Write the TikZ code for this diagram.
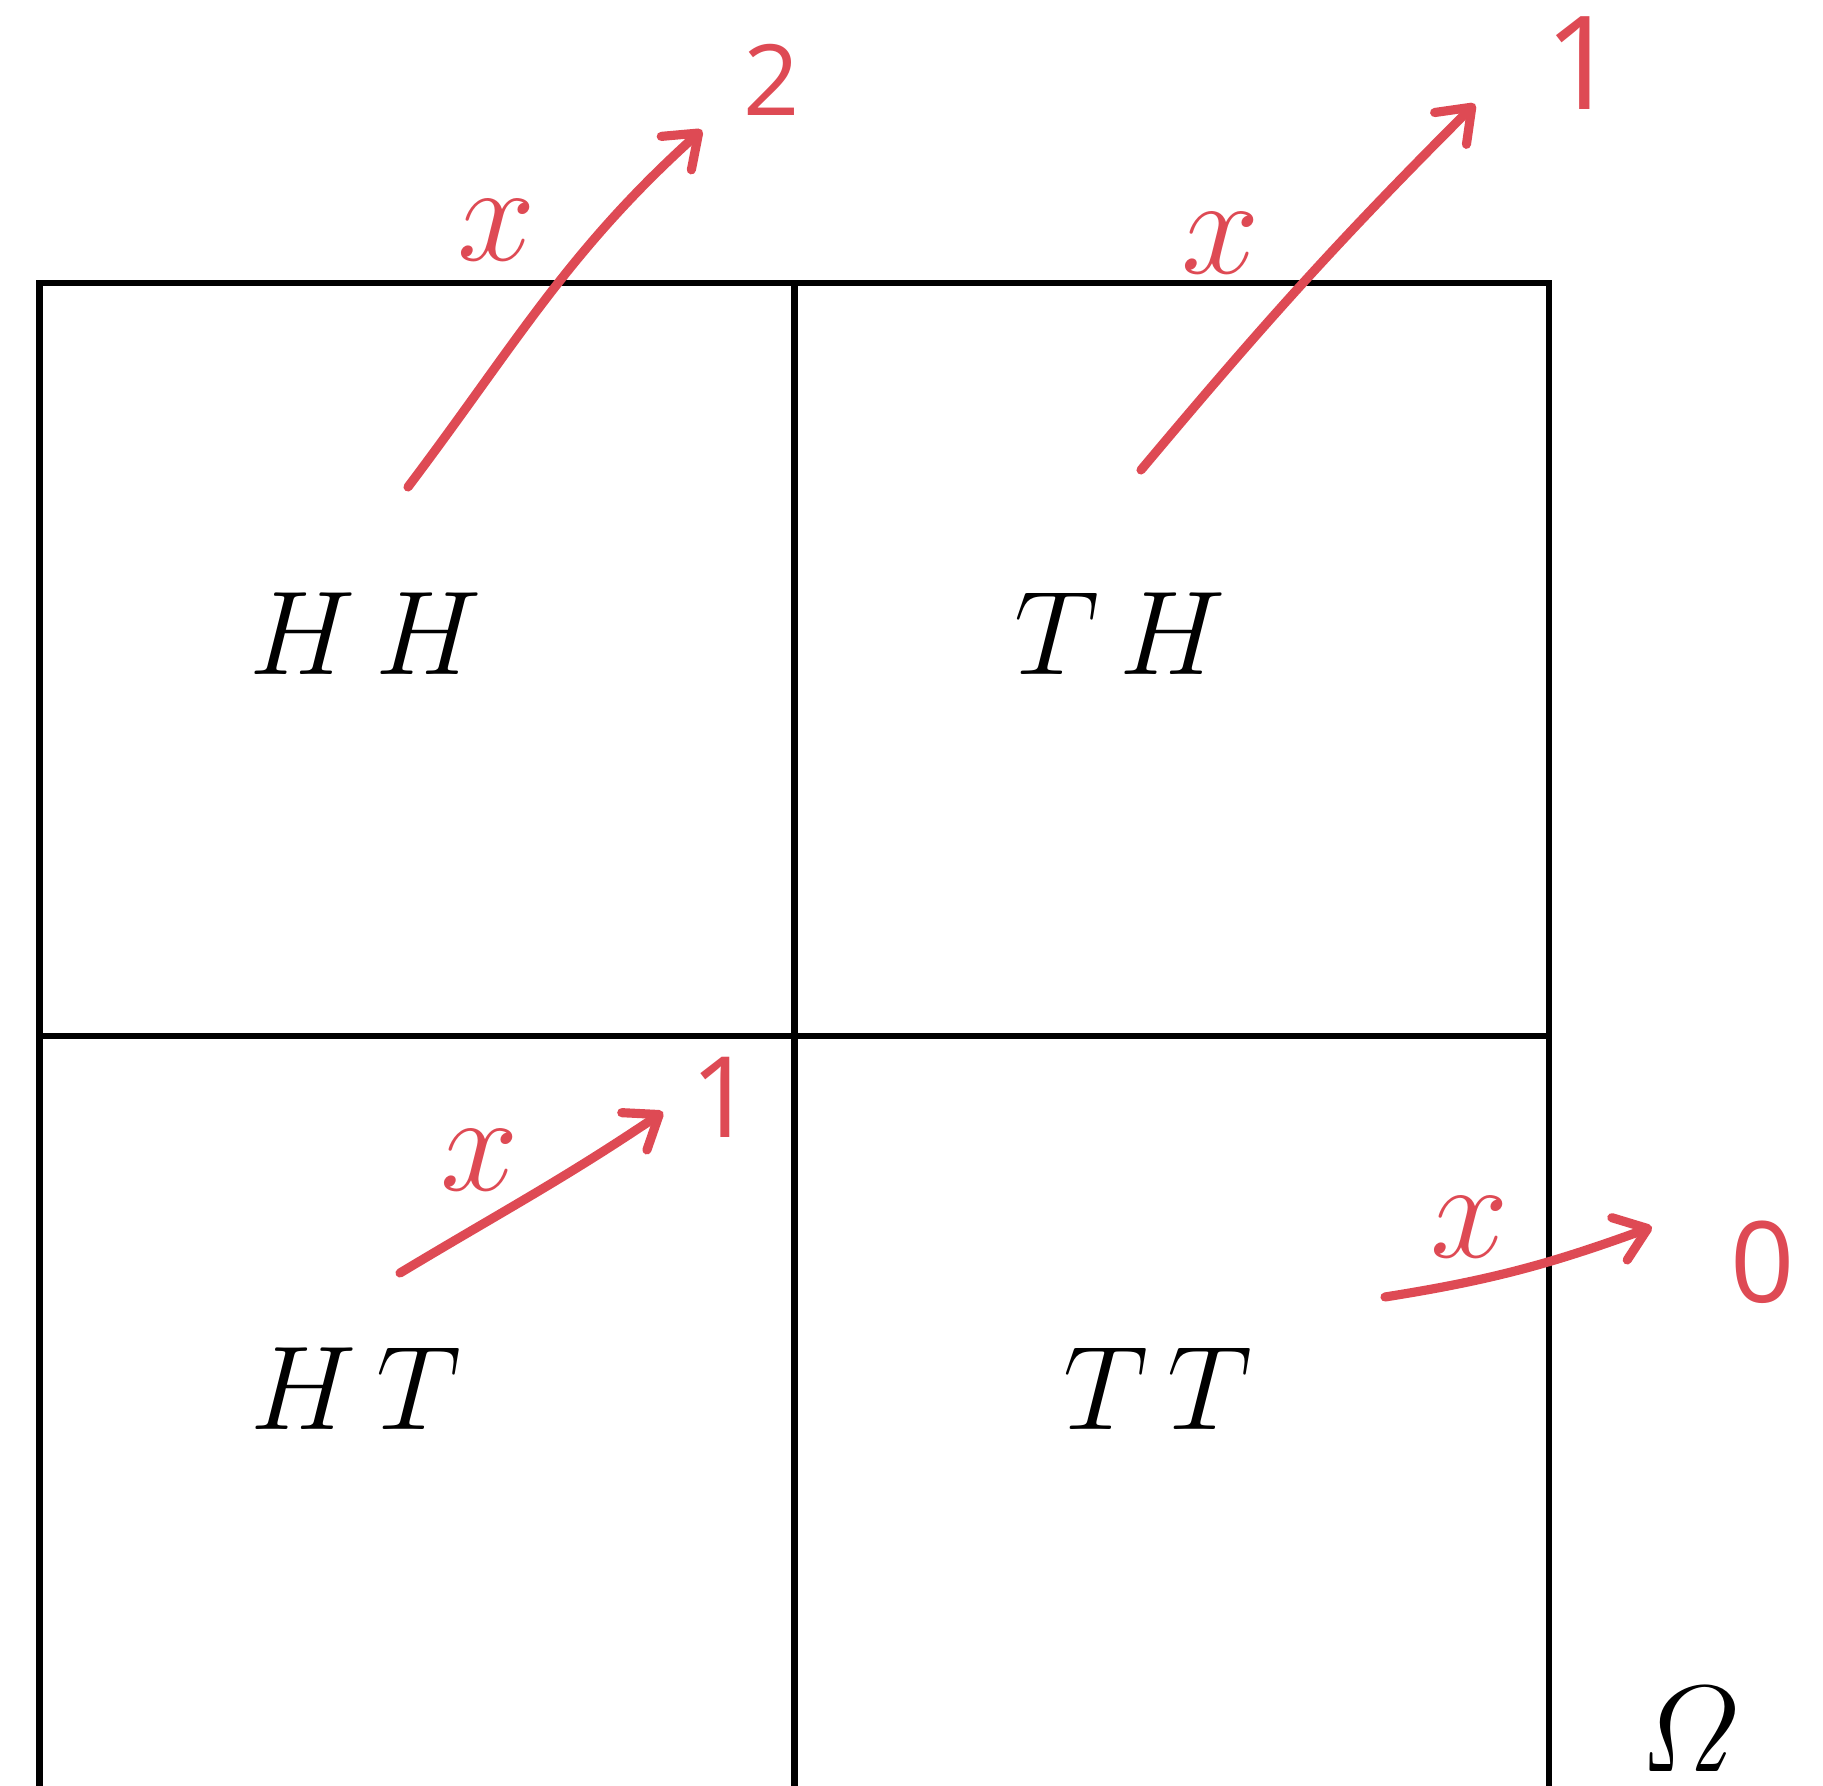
\documentclass[tikz,border=0pt]{standalone}
\usepackage{fix-cm}
\usepackage{amsmath}
\usepackage{fontspec}
\newfontfamily\penfont{Open Sans}
\usetikzlibrary{arrows.meta}
\definecolor{penred}{RGB}{222,74,84}
\tikzset{
  cell/.style = {
    rectangle, draw=black, line width=1.85pt,
    minimum width=7.55cm, minimum height=7.53cm, inner sep=0pt
  },
  outcome/.style = {
    font=\fontsize{34}{40}\selectfont, inner sep=0pt
  },
  mapsto/.style = {
    draw=penred, line width=2.6pt, line cap=round,
    -{Straight Barb[length=3mm, width=4.5mm, round]}
  },
  xlab/.style = {
    text=penred, font=\fontsize{40}{46}\selectfont, inner sep=0pt
  },
  val/.style = {
    text=penred, font=\penfont\fontsize{32}{38}\selectfont, inner sep=0pt
  }
}

\begin{document}
\begin{tikzpicture}

    \useasboundingbox (0,0) rectangle (18.23,17.86);
    \clip (0,0) rectangle (18.23,17.86);

    % ---------------------------------------------------------------- Cells
    \node [cell] (hh) at (4.17,  11.265) {};
    \node [cell] (th) at (11.715, 11.265) {};
    \node [cell] (ht) at (4.17,   3.735) {};
    \node [cell] (tt) at (11.715,  3.735) {};

    % ------------------------------------------------------------- Outcomes
    \node [outcome] (hh_lab) at (3.66,  11.52) {$H\,H$};
    \node [outcome] (th_lab) at (11.20, 11.52) {$T\,H$};
    \node [outcome] (ht_lab) at (3.56,   3.97) {$H\,T$};
    \node [outcome] (tt_lab) at (11.58,  3.97) {$T\,T$};
    \node [outcome, font=\fontsize{35}{40}\selectfont] (omega) at (16.90, 0.57) {$\varOmega$};

    % --------------------------------------------------------------- Values
    \node [val, font=\penfont\fontsize{28}{34}\selectfont] (v_hh) at (7.72, 17.06) {2};
    \node [val, font=\penfont\fontsize{37}{44}\selectfont] (v_th) at (15.82, 17.23) {1};
    \node [val] (v_ht) at (7.23, 6.89) {1};
    \node [val] (v_tt) at (17.63, 5.24) {0};

    % -------------------------------------------------------------- x marks
    \node [xlab] (x_hh) at (4.97, 15.56) {$x$};
    \node [xlab] (x_th) at (12.21, 15.43) {$x$};
    \node [xlab] (x_ht) at (4.80,  6.26) {$x$};
    \node [xlab] (x_tt) at (14.70, 5.59) {$x$};

    % --------------------------------------------------------------- Arrows
    \coordinate (hh_from) at (4.08, 12.99);
    \coordinate (hh_to)   at (7.02, 16.56);
    \coordinate (th_from) at (11.41, 13.16);
    \coordinate (th_to)   at (14.75, 16.82);
    \coordinate (ht_from) at (4.00, 5.13);
    \coordinate (ht_to)   at (6.63, 6.74);
    \coordinate (tt_from) at (13.85, 4.89);
    \coordinate (tt_to)   at (16.52, 5.59);

    \draw [mapsto] (hh_from) to [out=53, in=222] (hh_to);
    \draw [mapsto] (th_from) to [out=50, in=225] (th_to);
    \draw [mapsto] (ht_from) to [out=31, in=214] (ht_to);
    \draw [mapsto] (tt_from) to [out=9,  in=200] (tt_to);

\end{tikzpicture}
\end{document}
